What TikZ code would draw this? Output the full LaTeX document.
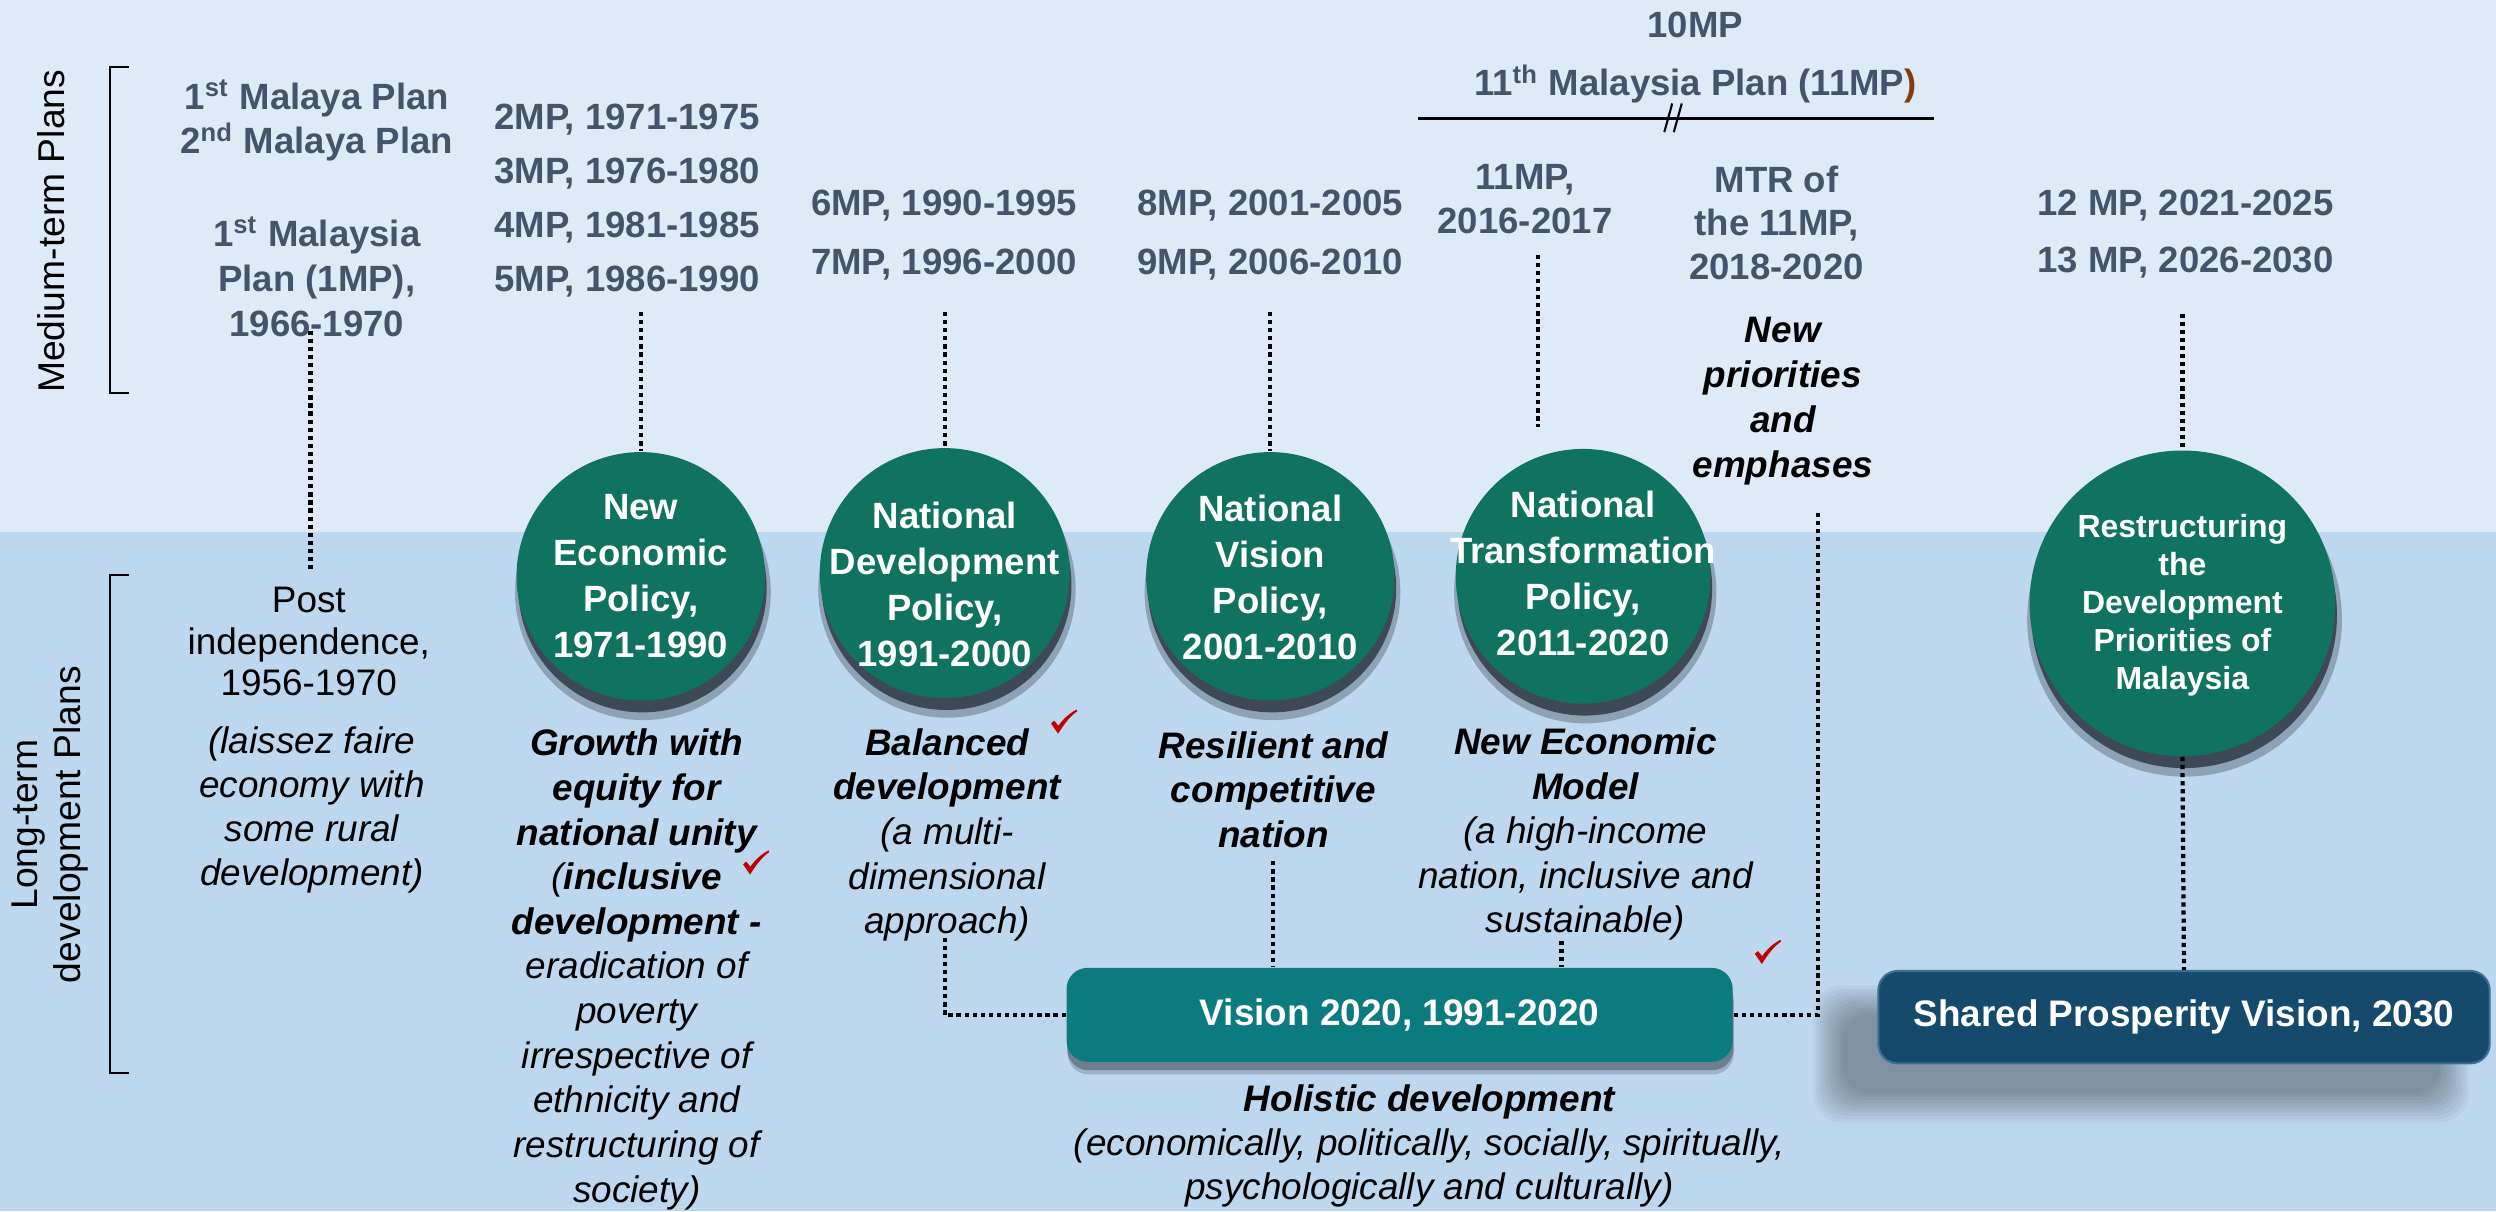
\documentclass[tikz,border=0pt]{standalone}
\usepackage{fontspec}
\setmainfont{Liberation Sans}
\usetikzlibrary{shadows}
\definecolor{topbg}{HTML}{DEEBF7}
\definecolor{botbg}{HTML}{BDD7EE}
\definecolor{hdrgray}{HTML}{44546A}
\definecolor{polgreen}{HTML}{10735F}
\definecolor{visteal}{HTML}{0C7B80}
\definecolor{spvblue}{HTML}{154A6C}
\definecolor{spvedge}{HTML}{3A6E95}
\definecolor{shadowc}{HTML}{37404C}
\definecolor{checkred}{HTML}{C00000}
\definecolor{parbrown}{HTML}{843C0C}
\def\upx{0.15918mm}
\newcommand\redcheck[1]{%
  \fill[checkred, shift={(#1)}] (-8.2,1.2) -- (-6.3,-0.6) -- (-3.6,2.6)
    .. controls (-0.5,-1.8) and (3,-5) .. (7.8,-7.6) -- (8.3,-6.6)
    .. controls (3.5,-3.2) and (0,1.5) .. (-3.8,7.6) -- cycle;}
\begin{document}
\begin{tikzpicture}[x=0.15918mm,y=-0.15918mm,
  hdr/.style={text=hdrgray, font=\fontsize{10.4}{#1}\selectfont\bfseries, align=center, inner sep=0pt},
  hdr/.default=12.7,
  body/.style={text=black, font=\fontsize{10.5}{#1}\selectfont, align=center, inner sep=0pt},
  body/.default=12.7,
  bodyit/.style={text=black, font=\fontsize{10.5}{#1}\selectfont\itshape, align=center, inner sep=0pt},
  bodyit/.default=12.7,
  emph/.style={text=black, font=\fontsize{10.5}{12.8}\selectfont\bfseries\itshape, align=center, inner sep=0pt},
  sidelab/.style={text=black, font=\fontsize{10.6}{12.3}\selectfont, align=center, inner sep=0pt},
  brk/.style={line width=0.6pt, black},
  dotline/.style={line width=1.2pt, dash pattern=on 1.2pt off 1.1pt, black},
  pol/.style={circle, fill=polgreen, inner sep=0pt,
    general shadow={shadow scale=1.03, shadow xshift=0.6pt, shadow yshift=-4.4pt, fill=shadowc, opacity=0.35},
    general shadow={shadow xshift=0.5pt, shadow yshift=-3.4pt, fill=shadowc, opacity=0.9}},
  poltext/.style={text=white, align=center, inner sep=0pt, font=\fontsize{10.4}{13.1}\selectfont\bfseries},
  visbox/.style={rectangle, rounded corners=6pt, fill=visteal, inner sep=0pt,
    minimum width=418.5*\upx, minimum height=59*\upx, text=white,
    font=\fontsize{10.5}{12}\selectfont\bfseries,
    general shadow={shadow xshift=0.3pt, shadow yshift=-3.6pt, fill=shadowc, opacity=0.25},
    general shadow={shadow xshift=0.2pt, shadow yshift=-2.4pt, fill=shadowc, opacity=0.45}},
  spvbox/.style={rectangle, rounded corners=5.5pt, fill=spvblue, draw=spvedge, line width=0.6pt, inner sep=0pt,
    minimum width=384*\upx, minimum height=58*\upx, text=white,
    font=\fontsize{10.5}{12}\selectfont\bfseries}
]
% background
\fill[topbg] (0,0) rectangle (1568,334);
\fill[botbg] (0,334) rectangle (1568,761);
\useasboundingbox (0,0) rectangle (1568,761);

% side labels and brackets
\node[sidelab, rotate=90] (mtp) at (32,145.3) {Medium-term Plans};
\node[sidelab, rotate=90] (ltp) at (31.5,518) {Long-term\\development Plans};
\draw[brk] (81,42) -- (69,42) -- (69,246.8) -- (81,246.8);
\draw[brk] (81,361) -- (69,361) -- (69,674) -- (81,674);

% medium-term headers
\node[hdr] (mp12) at (199,75.8) {1\textsuperscript{st} Malaya Plan\\2\textsuperscript{nd} Malaya Plan};
\node[hdr=12.8] (m1) at (199,174) {1\textsuperscript{st} Malaysia\\Plan (1MP),\\1966-1970};
\node[hdr=15.3] (hdr2) at (394,126) {2MP, 1971-1975\\3MP, 1976-1980\\4MP, 1981-1985\\5MP, 1986-1990};
\node[hdr=16.7] (hdr6) at (593,147.5) {6MP, 1990-1995\\7MP, 1996-2000};
\node[hdr=16.7] (hdr8) at (798,147.5) {8MP, 2001-2005\\9MP, 2006-2010};
\node[hdr] (t10) at (1065,15.7) {10MP};
\node[hdr] (t11) at (1065,52.7) {11\textsuperscript{th} Malaysia Plan (11MP\textcolor{parbrown}{)}};
\node[hdr] (hdr11) at (958,125) {11MP,\\2016-2017};
\node[hdr=12.4] (mtr) at (1116,140) {MTR of\\the 11MP,\\2018-2020};
\node[hdr=16.3] (hdr12) at (1373,147) {12 MP, 2021-2025\\13 MP, 2026-2030};
\node[emph] (newp) at (1120,252) {New\\priorities\\and\\emphases};

% 11MP line with break mark
\coordinate (la) at (891,74.5);
\coordinate (lb) at (1215,74.5);
\draw[line width=0.9pt] (la) -- (lb);
\draw[line width=0.6pt] (1045.5,83) -- (1050.5,65) (1051.5,83) -- (1056.5,65);

% policy circles
\node[pol, minimum size=156*\upx] (nep) at (402.5,362) {};
\node[pol, minimum size=157*\upx] (ndp) at (593.5,360) {};
\node[pol, minimum size=156*\upx] (nvp) at (798,362) {};
\node[pol, minimum size=160*\upx] (ntp) at (994.5,362) {};
\node[pol, minimum size=192*\upx] (rdpm) at (1371,379) {};
\node[poltext] (nept) at (402.5,362) {New\\Economic\\Policy,\\1971-1990};
\node[poltext] (ndpt) at (593.5,367) {National\\Development\\Policy,\\1991-2000};
\node[poltext] (nvpt) at (798,362.5) {National\\Vision\\Policy,\\2001-2010};
\node[poltext] (ntpt) at (994.5,360) {National\\Transformation\\Policy,\\2011-2020};
\node[poltext, font=\fontsize{9.1}{10.8}\selectfont\bfseries] (rdpmt) at (1371,380) {Restructuring\\the\\Development\\Priorities of\\Malaysia};

% long-term texts
\node[body=11.9] (post) at (194,403) {Post\\independence,\\1956-1970};
\node[bodyit=12.6] (laissez) at (196,508.8) {(laissez faire\\economy with\\some rural\\development)};
\node[bodyit=12.7] (nepl) at (400,609) {\textbf{Growth with}\\\textbf{equity for}\\\textbf{national unity}\\(\textbf{inclusive}\\\textbf{development -}\\eradication of\\poverty\\irrespective of\\ethnicity and\\restructuring of\\society)};
\node[bodyit=12.7] (ndpl) at (595,524.5) {\textbf{Balanced}\\\textbf{development}\\(a multi-\\dimensional\\approach)};
\node[bodyit=12.7] (nvpl) at (800,496) {\textbf{Resilient and}\\\textbf{competitive}\\\textbf{nation}};
\node[bodyit=12.7] (ntpl) at (996,524) {\textbf{New Economic}\\\textbf{Model}\\(a high-income\\nation, inclusive and\\sustainable)};
\node[bodyit=12.5] (holi) at (898,720) {\textbf{Holistic development}\\(economically, politically, socially, spiritually,\\psychologically and culturally)};

% SPV soft shadow
\foreach \d in {14,12,...,-4}{
  \fill[black, opacity=0.035, rounded corners=8pt] (1153-\d,633-\d) rectangle (1537+\d,691+\d);
}

% vision boxes
\node[visbox] (vis) at (879.25,637.5) {Vision 2020, 1991-2020};
\node[spvbox] (spv) at (1372,639) {Shared Prosperity Vision, 2030};

% connector end points
\coordinate (c1t) at (195,207.7);
\coordinate (c1b) at (195,358);
\coordinate (c2t) at (402.5,196);
\coordinate (c3t) at (593.5,196);
\coordinate (c4t) at (798,196);
\coordinate (c5t) at (966,160);
\coordinate (c5b) at (966,268);
\coordinate (c6t) at (1142,322);
\coordinate (c7t) at (1371,197);
\coordinate (c8t) at (593.5,589);
\coordinate (c9t) at (799.5,541);
\coordinate (c10t) at (981,591);

% dotted connectors
\draw[dotline] (c1t) -- (c1b);
\draw[dotline] (c2t) -- (nep.north);
\draw[dotline] (c3t) -- (ndp.north);
\draw[dotline] (c4t) -- (nvp.north);
\draw[dotline] (c5t) -- (c5b);
\draw[dotline] (c6t) |- (vis.east);
\draw[dotline] (c7t) -- (rdpm.north);
\draw[dotline] (rdpm.south) -- (spv.north);
\draw[dotline] (c8t) |- (vis.west);
\draw[dotline] (c9t) -- (c9t |- vis.north);
\draw[dotline] (c10t) -- (c10t |- vis.north);

% check marks
\redcheck{475,541.8}
\redcheck{668.5,453.3}
\redcheck{1110.6,598}
\end{tikzpicture}
\end{document}
